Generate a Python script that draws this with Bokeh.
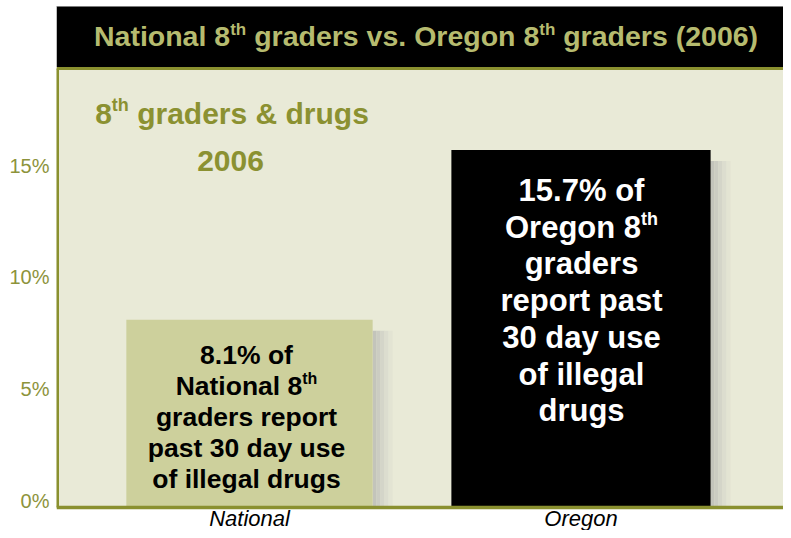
from bokeh.plotting import figure
from bokeh.models import FixedTicker, Range1d
from bokeh.core.properties import value
from bokeh.embed import file_html
from bokeh.resources import INLINE

# ---------------- data ----------------
categories = ["National", "Oregon"]
percent = [8.1, 15.7]
y_ticks = [0, 5, 10, 15]
y_tick_labels = ["0%", "5%", "10%", "15%"]
title_parts = [("National 8", False), ("th", True), (" graders vs. Oregon 8", False),
               ("th", True), (" graders (2006)", False)]
subtitle_line1 = [("8", False), ("th", True), (" graders & drugs", False)]
subtitle_line2 = [("2006", False)]
national_lines = [[(f"{percent[0]}% of", False)], [("National 8", False), ("th", True)],
                  [("graders report", False)], [("past 30 day use", False)],
                  [("of illegal drugs", False)]]
oregon_lines = [[(f"{percent[1]}% of", False)], [("Oregon 8", False), ("th", True)],
                [("graders", False)], [("report past", False)], [("30 day use", False)],
                [("of illegal", False)], [("drugs", False)]]

# ---------------- layout / style ----------------
W, H = 783, 530
FL = 56                   # frame left (px)
S = 22.33                 # px per percent
Y0 = 500                  # px of 0%
XS = 331.5                # px per category step
X0 = 249                  # px of first category

x_start, x_end = (FL - X0) / XS, (W - X0) / XS
y_start, y_end = (Y0 - H) / S, Y0 / S


def dx(fx):
    return (fx - X0) / XS


def dy(fy):
    return (Y0 - fy) / S


BG = "#e9ead7"
OLIVE = "#8a902f"
TITLE_TXT = "#b6bb6f"
NAT_BAR = "#cdd09c"
TICK = "#8d933b"
SUB = "#8b9131"
FONT = "Liberation Sans"

AB = {' ': 278, '%': 889, '&': 722, '(': 333, ')': 333, '.': 278, 'N': 722, 'O': 778,
      'a': 556, 'b': 611, 'c': 556, 'd': 611, 'e': 556, 'f': 333, 'g': 611, 'h': 611,
      'i': 278, 'j': 278, 'k': 556, 'l': 278, 'm': 889, 'n': 611, 'o': 611, 'p': 611,
      'q': 611, 'r': 389, 's': 556, 't': 333, 'u': 611, 'v': 556, 'w': 778, 'x': 556,
      'y': 556, 'z': 500}
for d in "0123456789":
    AB[d] = 556


def tw(s, size):
    return sum(AB.get(c, 556) for c in s) * size / 1000.0


p = figure(width=W, height=H, output_backend="svg", toolbar_location=None,
           x_range=Range1d(x_start, x_end), y_range=Range1d(y_start, y_end),
           x_axis_location=None,
           min_border_left=FL, min_border_right=0, min_border_top=0, min_border_bottom=0)
p.background_fill_color = "white"
p.border_fill_color = "white"
p.outline_line_color = None
p.grid.visible = False

base = dy(507)            # level of the olive base line

# plot area background
p.quad(left=[x_start], right=[x_end], top=[dy(68)], bottom=[base],
       fill_color=BG, line_color=None)

# shadows
shadow_cols = ["#c3c4bb", "#cbccc2", "#d4d5c9", "#dcddcf", "#e3e4d3"]
bar_widths = [0.743, 0.782]
for i, (cat, v) in enumerate(zip(categories, percent)):
    right = i + bar_widths[i] / 2
    for k, c in enumerate(shadow_cols):
        p.quad(left=[right + k * 4 / XS], right=[right + (k + 1) * 4 / XS],
               top=[v - 0.5], bottom=[base], fill_color=c, line_color=None)

# bars
p.vbar(x=list(range(len(categories))), top=percent, bottom=base, width=bar_widths,
       fill_color=[NAT_BAR, "black"], line_color=None)

# title bar and frame lines
p.quad(left=[x_start], right=[x_end], top=[dy(6)], bottom=[dy(66.5)],
       fill_color="black", line_color=None)
p.segment(x0=[x_start], x1=[x_end], y0=[dy(6)], y1=[dy(6)], line_color="#7a7a7a", line_width=1)
p.segment(x0=[x_start], x1=[x_end], y0=[dy(68)], y1=[dy(68)], line_color=OLIVE, line_width=3)
p.segment(x0=[dx(57)], x1=[dx(57)], y0=[base], y1=[dy(68)], line_color=OLIVE, line_width=3)
p.segment(x0=[x_start], x1=[x_end], y0=[base], y1=[base], line_color=OLIVE, line_width=3.5)


def draw_line(pieces, cx, cy, size, sup_size, sup_rise, color, style="bold"):
    widths = [tw(txt, sup_size if sup else size) for txt, sup in pieces]
    x = cx - sum(widths) / 2
    for (txt, sup), w in zip(pieces, widths):
        sz = sup_size if sup else size
        lead = len(txt) - len(txt.lstrip(" "))
        xx = x + tw(" " * lead, sz)
        p.text(x=[dx(xx)], y=[dy(cy - sup_rise if sup else cy)], text=[txt.strip()],
               text_font=value(FONT), text_font_style=style, text_font_size=f"{sz}px",
               text_color=color, text_align="left", text_baseline="middle")
        x += w


draw_line(title_parts, 425.5, 35, 28.5, 17, 6, TITLE_TXT)
draw_line(subtitle_line1, 231.5, 113, 30, 18, 9, SUB)
draw_line(subtitle_line2, 230, 160, 30, 18, 9, SUB)
for k, ln in enumerate(national_lines):
    draw_line(ln, 246, 354 + 31 * k, 26.5, 16, 7, "black")
for k, ln in enumerate(oregon_lines):
    draw_line(ln, 581, 190 + 36.7 * k, 31, 18, 8, "white")

# category labels
p.text(x=list(range(len(categories))), y=[dy(518)] * len(categories), text=categories,
       text_font=value(FONT), text_font_style="italic", text_font_size="22px",
       text_color="black", text_align="center", text_baseline="middle")

# value axis
p.yaxis.ticker = FixedTicker(ticks=y_ticks)
p.yaxis.major_label_overrides = {t: l for t, l in zip(y_ticks, y_tick_labels)}
p.yaxis.axis_line_color = None
p.yaxis.major_tick_line_color = None
p.yaxis.minor_tick_line_color = None
p.yaxis.major_tick_out = 0
p.yaxis.major_tick_in = 0
p.yaxis.major_label_standoff = 7
p.yaxis.major_label_text_font = FONT
p.yaxis.major_label_text_font_size = "20px"
p.yaxis.major_label_text_color = TICK

open("out.html", "w").write(file_html(p, INLINE))
